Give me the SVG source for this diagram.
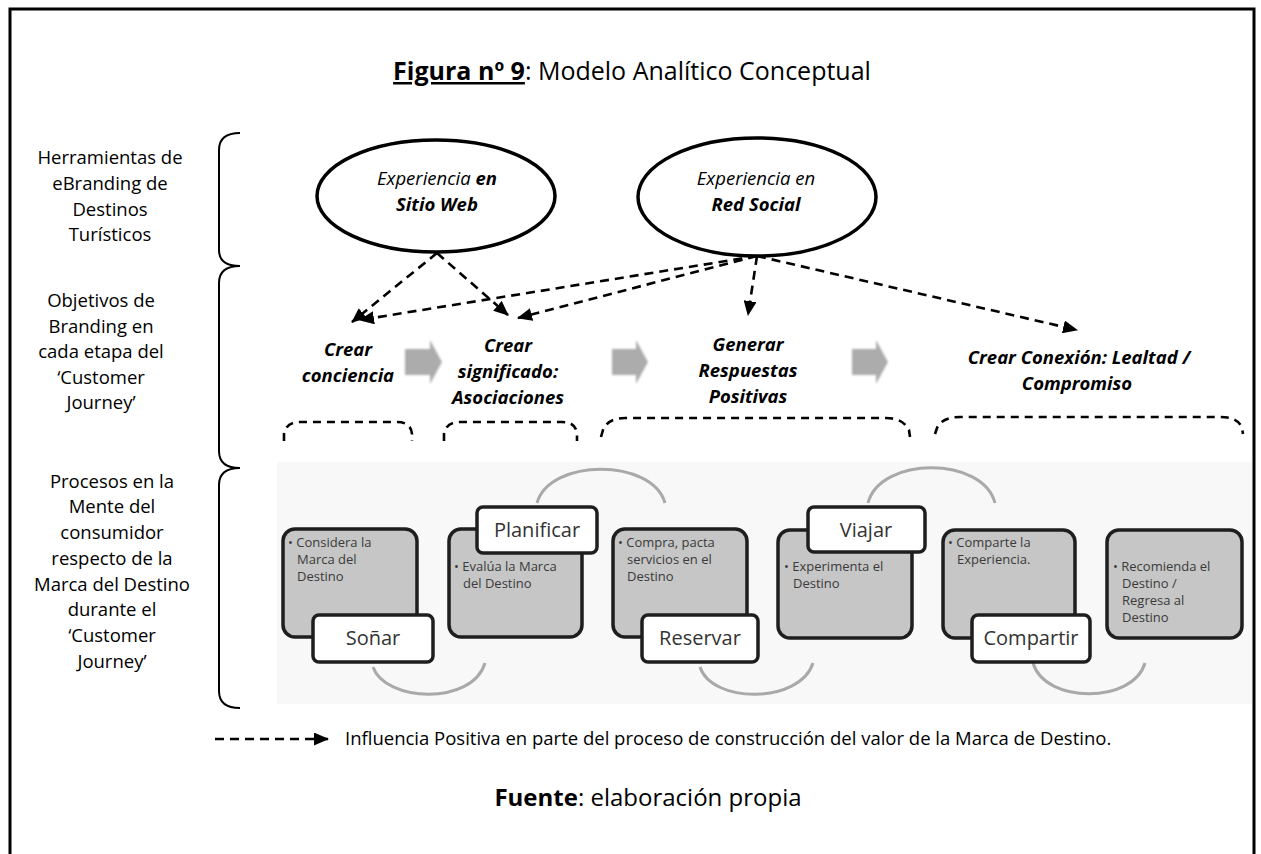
<svg xmlns="http://www.w3.org/2000/svg" width="1261" height="854" viewBox="0 0 1261 854">
<defs>
<style>
text{font-family:"Open Sans","Liberation Sans",sans-serif;fill:#000}
.side{font-size:18.5px;text-anchor:middle}
.stage{font-size:18.5px;font-weight:bold;font-style:italic;text-anchor:middle}
.ell{fill:#fff;stroke:#000;stroke-width:3.5}
.etx{font-size:18.5px;font-style:italic;text-anchor:middle}
.conn{fill:none;stroke:#000;stroke-width:2.6;stroke-dasharray:9 6}
.brk{fill:none;stroke:#000;stroke-width:2.6;stroke-dasharray:8 6}
.garrow{fill:#acacac;filter:url(#blur)}
.body{fill:#c6c6c6;stroke:#1e1e1e;stroke-width:3.5}
.lab{fill:#fff;stroke:#1e1e1e;stroke-width:3.5}
.labt{font-size:20px;text-anchor:middle;fill:#333}
.btx{font-size:13px;fill:#3a3a3a}
.arc{fill:none;stroke:#a9a9a9;stroke-width:3}
</style>
<marker id="ah" markerUnits="userSpaceOnUse" markerWidth="15" markerHeight="13" refX="14" refY="6.5" orient="auto">
<path d="M0,0 L15,6.5 L0,13 z" fill="#000"/>
</marker>
<filter id="blur" x="-20%" y="-20%" width="140%" height="140%"><feGaussianBlur stdDeviation="1.2"/></filter>
</defs>
<rect x="0" y="0" width="1261" height="854" fill="#fff"/>
<rect id="frame" x="10" y="9" width="1244" height="860" fill="none" stroke="#000" stroke-width="3"/>

<g id="title">
<text x="632" y="80" font-size="25" text-anchor="middle"><tspan font-weight="bold" text-decoration="underline">Figura nº 9</tspan>: Modelo Analítico Conceptual</text>
</g>

<g id="side-labels">
<text class="side" x="110" y="164">Herramientas de</text>
<text class="side" x="110" y="190">eBranding de</text>
<text class="side" x="110" y="216">Destinos</text>
<text class="side" x="110" y="241">Turísticos</text>
<text class="side" x="101" y="307">Objetivos de</text>
<text class="side" x="101" y="333">Branding en</text>
<text class="side" x="101" y="358">cada etapa del</text>
<text class="side" x="101" y="384">‘Customer</text>
<text class="side" x="101" y="409">Journey’</text>
<text class="side" x="112" y="488">Procesos en la</text>
<text class="side" x="112" y="513">Mente del</text>
<text class="side" x="112" y="539">consumidor</text>
<text class="side" x="112" y="565">respecto de la</text>
<text class="side" x="112" y="591">Marca del Destino</text>
<text class="side" x="112" y="616">durante el</text>
<text class="side" x="112" y="642">‘Customer</text>
<text class="side" x="112" y="668">Journey’</text>
</g>

<g id="braces">
<path d="M240,133 Q219,133 219,150 L219,250 Q219,266 240,266 Q219,266 219,283 L219,451 Q219,468 240,468 Q219,468 219,485 L219,691 Q219,708 240,708" fill="none" stroke="#000" stroke-width="2"/>
</g>

<g id="node-sitio-web">
<ellipse class="ell" cx="436" cy="196" rx="119" ry="56"/>
<text class="etx" x="437" y="185">Experiencia <tspan font-weight="bold">en</tspan></text>
<text class="etx" x="437" y="211" font-weight="bold">Sitio Web</text>
</g>
<g id="node-red-social">
<ellipse class="ell" cx="757" cy="197" rx="119" ry="59"/>
<text class="etx" x="756" y="185">Experiencia  en</text>
<text class="etx" x="756" y="211" font-weight="bold">Red Social</text>
</g>

<g id="connectors">
<line class="conn" x1="437" y1="253" x2="352" y2="322" marker-end="url(#ah)"/>
<line class="conn" x1="437" y1="253" x2="508" y2="315" marker-end="url(#ah)"/>
<line class="conn" x1="757" y1="256" x2="360" y2="320" marker-end="url(#ah)"/>
<line class="conn" x1="757" y1="256" x2="518" y2="318" marker-end="url(#ah)"/>
<line class="conn" x1="757" y1="256" x2="748" y2="315" marker-end="url(#ah)"/>
<line class="conn" x1="757" y1="256" x2="1077" y2="330" marker-end="url(#ah)"/>
</g>

<g id="stage-crear-conciencia">
<text class="stage" x="348" y="356">Crear</text>
<text class="stage" x="348" y="382">conciencia</text>
</g>
<g id="stage-crear-significado">
<text class="stage" x="508" y="352">Crear</text>
<text class="stage" x="508" y="378">significado:</text>
<text class="stage" x="508" y="404">Asociaciones</text>
</g>
<g id="stage-generar">
<text class="stage" x="748" y="351">Generar</text>
<text class="stage" x="748" y="377">Respuestas</text>
<text class="stage" x="748" y="403">Positivas</text>
</g>
<g id="stage-conexion">
<text class="stage" x="1079" y="364">Crear Conexión: Lealtad /</text>
<text class="stage" x="1077" y="390">Compromiso</text>
</g>

<g id="stage-arrows">
<polygon class="garrow" points="405,349 430,349 430,340 442,362 430,384 430,375 405,375"/>
<polygon class="garrow" points="612,349 636,349 636,340 648,362 636,384 636,375 612,375"/>
<polygon class="garrow" points="852,349 876,349 876,340 888,362 876,384 876,375 852,375"/>
</g>

<g id="dashed-brackets">
<path class="brk" d="M284,441 L284,434 Q286,422 300,422 L397,422 Q411,422 412,434 L412,441"/>
<path class="brk" d="M444,441 L444,434 Q446,422 460,422 L562,422 Q576,422 577,434 L577,441"/>
<path class="brk" d="M601,437 L603,430 Q608,418 625,418 L886,418 Q903,418 909,430 L910,437"/>
<path class="brk" d="M935,434 L937,428 Q942,417 960,417 L1220,417 Q1238,417 1242,428 L1243,434"/>
</g>

<g id="process-diagram">
<rect x="277" y="462" width="975" height="242" fill="#f8f8f8"/>
<path class="arc" d="M373,667 C385,702 472,706 485,663"/>
<path class="arc" d="M537,503 C550,458 652,458 665,503"/>
<path class="arc" d="M700,667 C712,704 800,704 813,663"/>
<path class="arc" d="M868,503 C880,456 983,456 995,503"/>
<path class="arc" d="M1033,663 C1045,704 1133,704 1145,663"/>
</g>

<g id="node-sonar">
<rect class="body" x="283" y="529" width="134" height="108" rx="12"/>
<text class="btx" x="288" y="547">• Considera la</text>
<text class="btx" x="297" y="564">Marca del</text>
<text class="btx" x="297" y="581">Destino</text>
<rect class="lab" x="313" y="615" width="120" height="47" rx="6"/>
<text class="labt" x="373" y="645">Soñar</text>
</g>
<g id="node-planificar">
<rect class="body" x="449" y="529" width="133" height="108" rx="12"/>
<text class="btx" x="454" y="571">• Evalúa la Marca</text>
<text class="btx" x="463" y="588">del Destino</text>
<rect class="lab" x="477" y="507" width="120" height="46" rx="6"/>
<text class="labt" x="537" y="537" fill="#222">Planificar</text>
</g>
<g id="node-reservar">
<rect class="body" x="613" y="529" width="134" height="108" rx="12"/>
<text class="btx" x="618" y="547">• Compra, pacta</text>
<text class="btx" x="627" y="564">servicios en el</text>
<text class="btx" x="627" y="581">Destino</text>
<rect class="lab" x="642" y="615" width="116" height="47" rx="6"/>
<text class="labt" x="700" y="645">Reservar</text>
</g>
<g id="node-viajar">
<rect class="body" x="778" y="530" width="134" height="108" rx="12"/>
<text class="btx" x="784" y="571">• Experimenta el</text>
<text class="btx" x="793" y="588">Destino</text>
<rect class="lab" x="808" y="507" width="117" height="45" rx="6"/>
<text class="labt" x="866" y="537">Viajar</text>
</g>
<g id="node-compartir">
<rect class="body" x="943" y="530" width="132" height="108" rx="12"/>
<text class="btx" x="948" y="547">• Comparte la</text>
<text class="btx" x="957" y="564">Experiencia.</text>
<rect class="lab" x="972" y="615" width="118" height="47" rx="6"/>
<text class="labt" x="1031" y="645">Compartir</text>
</g>
<g id="node-recomienda">
<rect class="body" x="1107" y="530" width="135" height="108" rx="12"/>
<text class="btx" x="1113" y="571">• Recomienda el</text>
<text class="btx" x="1122" y="588">Destino /</text>
<text class="btx" x="1122" y="605">Regresa al</text>
<text class="btx" x="1122" y="622">Destino</text>
</g>

<g id="legend">
<line class="conn" x1="215" y1="739" x2="328" y2="739" stroke-dasharray="11 7" marker-end="url(#ah)"/>
<text x="345" y="745" font-size="18.5">Influencia Positiva en parte del proceso de construcción del valor de la Marca de Destino.</text>
</g>

<g id="source">
<text x="648" y="806" font-size="24" text-anchor="middle"><tspan font-weight="bold">Fuente</tspan>: elaboración propia</text>
</g>
</svg>
